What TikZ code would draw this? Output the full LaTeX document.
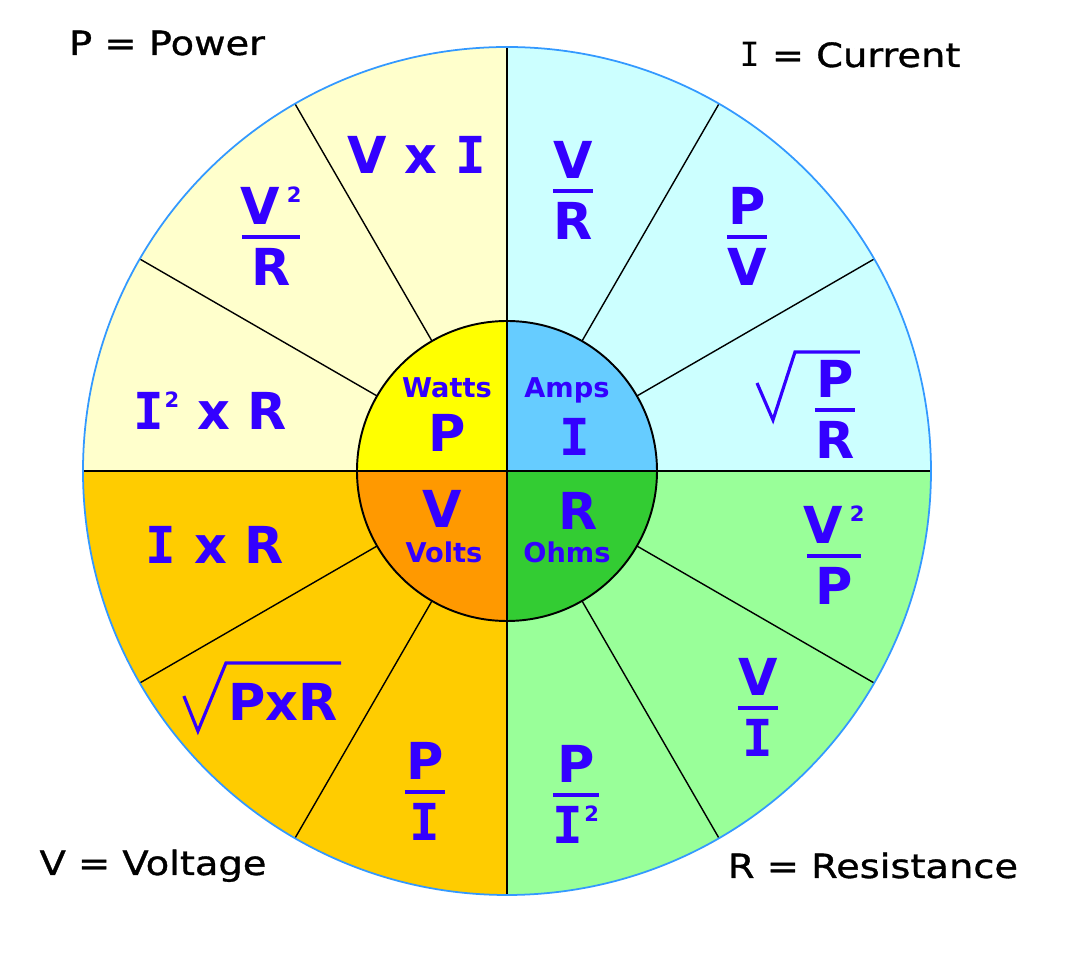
\documentclass[tikz,border=0pt]{standalone}
\usepackage{fontspec}
\setmainfont{DejaVu Sans}
\newfontfamily\labelfont{DejaVu Sans}[FakeStretch=1.15, FakeBold=1]
\newfontfamily\monofamily{DejaVu Sans Mono}
\usetikzlibrary{positioning,calc}

\definecolor{ohmblue}{HTML}{3300FF}
\definecolor{rimblue}{HTML}{3399FF}
\definecolor{powerbg}{HTML}{FFFFCC}
\definecolor{currentbg}{HTML}{CCFFFF}
\definecolor{resistbg}{HTML}{99FF99}
\definecolor{voltbg}{HTML}{FFCC00}
\definecolor{powerin}{HTML}{FFFF00}
\definecolor{currentin}{HTML}{66CCFF}
\definecolor{resistin}{HTML}{33CC33}
\definecolor{voltin}{HTML}{FF9900}

% serif capital I and a small raised 2
\newcommand{\Iv}{{\monofamily\bfseries I}}
\newcommand{\sqr}[1]{\kern#1\raisebox{12.4pt}{\fontsize{12}{12}\selectfont 2}}
% fraction: name, bar centre, half bar width, numerator, denominator
\newcommand{\ohmfrac}[5]{%
  \coordinate (#1) at #2;
  \draw[fracbar] ($(#1)+(-#3,0)$) -- ($(#1)+(#3,0)$);
  \node[formula, above=7pt of #1] (#1-num) {#4};
  \node[formula, below=6pt of #1] (#1-den) {#5};
}

\begin{document}
\begin{tikzpicture}[x=0.02cm, y=0.02cm,
    formula/.style={text=ohmblue, font=\fontsize{29}{29}\selectfont\bfseries, inner sep=0pt},
    unit/.style={text=ohmblue, font=\fontsize{15.5}{16}\selectfont\bfseries, inner sep=0pt, anchor=base},
    caption/.style={font=\labelfont\fontsize{19}{19}\selectfont, inner sep=0pt, anchor=base},
    fracbar/.style={draw=ohmblue, line width=2.6pt},
    radical/.style={draw=ohmblue, line width=1.8pt, line join=miter},
    spoke/.style={draw=black, line width=0.8pt},
    axis/.style={draw=black, line width=1.3pt}]
            \fill[white] (-507,-485) rectangle (573,471);
            % quadrants
            \foreach \col/\a in {currentbg/0, powerbg/90, voltbg/180, resistbg/270}
                \fill[\col] (0,0) -- (\a:424) arc[start angle=\a, delta angle=90, radius=424] -- cycle;
            \foreach \a in {30,60,120,150,210,240,300,330}
                \draw[spoke] (\a:150) -- (\a:424);
            \foreach \col/\a in {currentin/0, powerin/90, voltin/180, resistin/270}
                \fill[\col] (0,0) -- (\a:150) arc[start angle=\a, delta angle=90, radius=150] -- cycle;
            \draw[axis] (-424,0) -- (424,0);
            \draw[axis] (0,-424) -- (0,424);
            \draw[line width=1.1pt] (0,0) circle [radius=150];
            \draw[rimblue, line width=1pt] (0,0) circle [radius=424];

            % captions
            \node[caption] (power) at (-340,416) {P = Power};
            \node[caption] (current) at (343,404) {{\monofamily I} = Current};
            \node[caption] (voltage) at (-354,-404) {V = Voltage};
            \node[caption] (resistance) at (366,-407) {R = Resistance};

            % centre
            \node[unit] (watts) at (-60,73) {Watts};
            \node[formula] (p) at (-60,38) {P};
            \node[unit] (amps) at (60,73) {Amps};
            \node[formula] (i) at (68,34) {\Iv};
            \node[formula] (v) at (-65,-38) {V};
            \node[unit] (volts) at (-63,-92) {Volts};
            \node[formula] (r) at (71,-40) {R};
            \node[unit] (ohms) at (60,-92) {Ohms};

            % power
            \node[formula] (vxi) at (-90,316) {V x \Iv};
            \ohmfrac{v2r}{(-236,234)}{29}{V\sqr{4pt}}{R}
            \node[formula] (i2xr) at (-297,60) {\Iv\sqr{0.5pt} x R};
            % current
            \ohmfrac{vr}{(66,280)}{20}{V}{R}
            \ohmfrac{pv}{(240,234)}{20}{P}{V}
            \ohmfrac{pr}{(328,61)}{20}{P}{R}
            \draw[radical] ($(pr)+(-78,27)$) -- ($(pr)+(-62,-10)$) -- ($(pr)+(-40,58)$) -- ($(pr)+(25,58)$);
            % resistance
            \ohmfrac{v2p}{(327,-85)}{27}{V\sqr{4pt}}{P}
            \ohmfrac{vi}{(251,-237)}{20}{V}{\Iv}
            \ohmfrac{pi2}{(69,-324)}{23}{P}{\Iv\sqr{0.5pt}}
            % voltage
            \node[formula] (ixr) at (-292,-74) {\Iv{} x R};
            \node[formula] (pxr) at (-224,-231) {PxR};
            \draw[radical] ($(pxr.north west)+(-44,-13)$) -- ($(pxr.north west)+(-30,-48)$) -- ($(pxr.north west)+(-2,20)$) -- ($(pxr.north east)+(3,20)$);
            \ohmfrac{pi}{(-82,-321)}{20}{P}{\Iv}
        \end{tikzpicture}
\end{document}
